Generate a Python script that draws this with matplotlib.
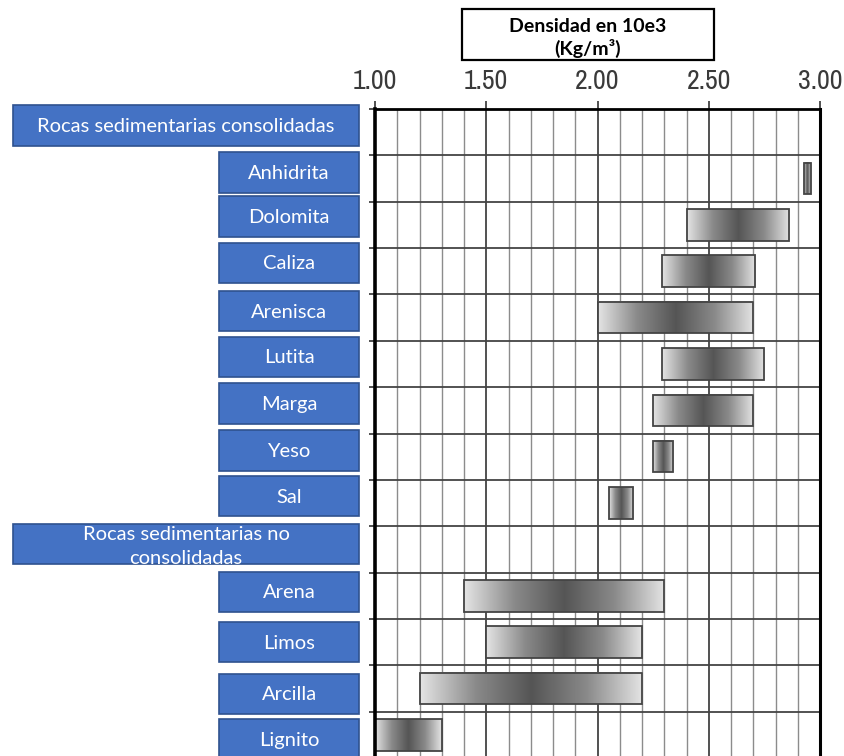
import numpy as np
import matplotlib.pyplot as plt
from matplotlib.patches import Rectangle
from matplotlib.colors import LinearSegmentedColormap
from matplotlib.transforms import blended_transform_factory

# rows from top to bottom; group headers have no range
rocks = ["Rocas sedimentarias consolidadas", "Anhidrita", "Dolomita", "Caliza",
         "Arenisca", "Lutita", "Marga", "Yeso", "Sal",
         "Rocas sedimentarias no\nconsolidadas", "Arena", "Limos", "Arcilla", "Lignito"]
is_header = [True, False, False, False, False, False, False, False, False,
             True, False, False, False, False]
dens_min = [None, 2.93, 2.40, 2.29, 2.00, 2.29, 2.25, 2.25, 2.05, None, 1.40, 1.50, 1.20, 1.00]
dens_max = [None, 2.96, 2.86, 2.71, 2.70, 2.75, 2.70, 2.34, 2.16, None, 2.30, 2.20, 2.20, 1.30]
tick_vals = [1.0, 1.5, 2.0, 2.5, 3.0]

# vertical nudge of each label box, in rows
box_shift = [-0.14, -0.13, -0.18, -0.18, -0.14, -0.15, -0.15, -0.13, -0.15,
             -0.12, -0.08, 0.0, 0.12, 0.1]

W, H = 844, 756
fig = plt.figure(figsize=(W / 100, H / 100), dpi=100)
ax = fig.add_axes([375 / W, -2 / H, 445 / W, 649 / H])

n = len(rocks)

# grid
for x in np.arange(1.1, 3.0, 0.1):
    major = abs(x * 2 - round(x * 2)) < 1e-6
    ax.axvline(x, color="#333333" if major else "#8c8c8c",
               lw=1.2 if major else 1.0, zorder=1)
for y in range(1, n):
    ax.axhline(y, color="#444444", lw=1.3, zorder=1)

# gradient bars
shade = LinearSegmentedColormap.from_list(
    "shade", ["#e4e4e4", "#8a8a8a", "#555555", "#8a8a8a", "#e4e4e4"])
grad = np.linspace(0, 1, 256).reshape(1, -1)
bar_h = 0.68
for i, (lo, hi) in enumerate(zip(dens_min, dens_max)):
    if lo is None:
        continue
    y0, y1 = i + 0.5 - bar_h / 2, i + 0.5 + bar_h / 2
    ax.imshow(grad, cmap=shade, aspect="auto", extent=(lo, hi, y1, y0),
              interpolation="bilinear", zorder=2)
    ax.add_patch(Rectangle((lo, y0), hi - lo, bar_h, fill=False,
                           ec="#444444", lw=1.3, zorder=3))
ax.set_xlim(1.0, 3.0)
ax.set_ylim(n, 0)

# axes styling
ax.xaxis.tick_top()
ax.set_xticks(tick_vals)
ax.set_xticklabels([f"{v:.2f}" for v in tick_vals],
                   family=["Archivo Narrow", "DejaVu Sans"], fontsize=20,
                   color="#3a3a3a")
ax.tick_params(axis="x", length=6, width=1.2, color="#333333", pad=5)
ax.set_yticks(range(0, n))
ax.set_yticklabels([])
ax.tick_params(axis="y", length=4, width=1.2, color="#333333")
for side, lw in [("left", 2.6), ("right", 2.2), ("top", 2.0), ("bottom", 2.0)]:
    ax.spines[side].set_linewidth(lw)
    ax.spines[side].set_color("black")
    ax.spines[side].set_zorder(4)

# blue label boxes to the left of the axes
trans = blended_transform_factory(fig.transFigure, ax.transData)
box_h = 0.875
for i, name in enumerate(rocks):
    x0 = 13 / W if is_header[i] else 219 / W
    x1 = 359 / W
    yc = i + 0.5 + box_shift[i]
    ax.add_patch(Rectangle((x0, yc - box_h / 2), x1 - x0, box_h, transform=trans,
                           fc="#4472C4", ec="#2F528F", lw=1.2, clip_on=False, zorder=5))
    ty = yc + (0.05 if "\n" in name else 0.02)
    ax.text((x0 + x1) / 2, ty, name, transform=trans, ha="center", va="center",
            color="white", fontsize=14.5, family="Lato", linespacing=1.5,
            clip_on=False, zorder=6)

# title box
fig.add_artist(Rectangle((462 / W, 1 - 60 / H), 252 / W, 51 / H, transform=fig.transFigure,
                         fc="white", ec="black", lw=1.6))
fig.text(588 / W, 1 - 26 / H, "Densidad en 10e3", ha="center", va="center",
         fontsize=14, fontweight="bold", family="Lato")
fig.text(588 / W, 1 - 48 / H, "(Kg/m³)", ha="center", va="center",
         fontsize=14, fontweight="bold", family="Lato")

fig.savefig("out.png", dpi=100)
